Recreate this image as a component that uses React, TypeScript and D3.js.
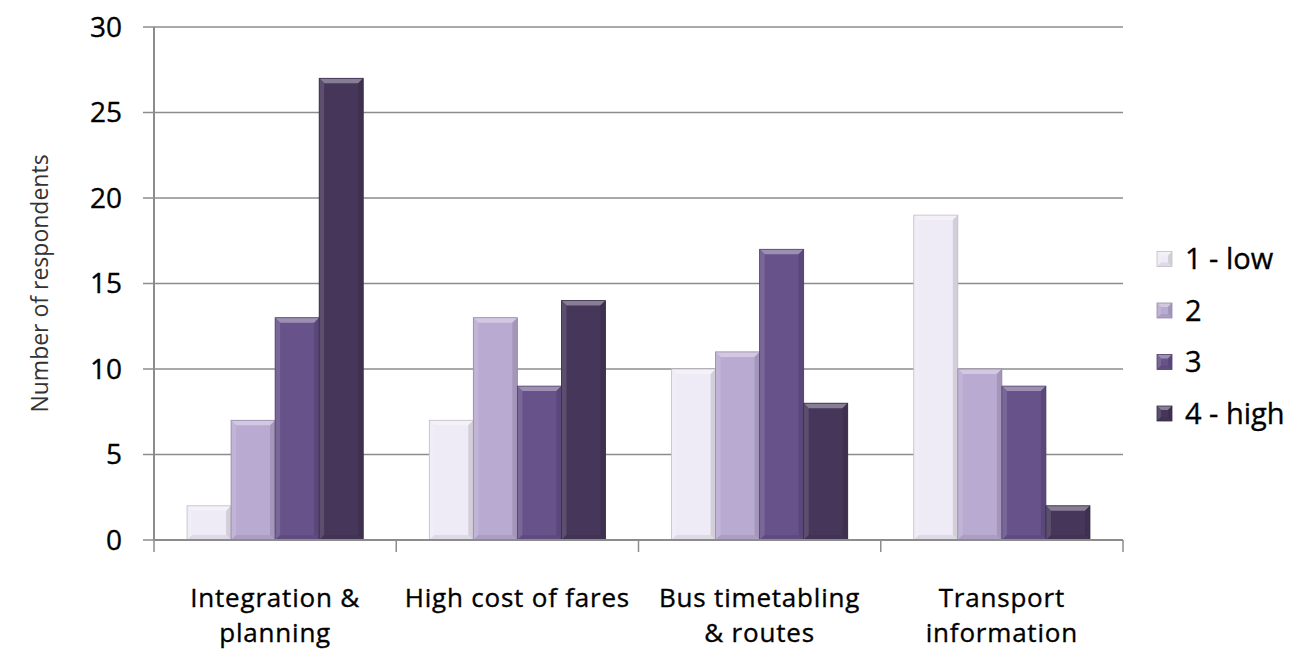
import React from "react";
import * as d3 from "d3";

const categories = [
  ["Integration &", "planning"],
  ["High cost of fares"],
  ["Bus timetabling", "& routes"],
  ["Transport", "information"],
];
const seriesNames = ["1 - low", "2", "3", "4 - high"];
const seriesColors = ["#EEEAF6", "#B9AAD2", "#67528A", "#46375A"];
const low = [2, 7, 10, 19];
const two = [7, 13, 11, 10];
const three = [13, 9, 17, 9];
const high = [27, 14, 8, 2];
const yTicks = [0, 5, 10, 15, 20, 25, 30];

const W = 1290;
const H = 651;
const left = 154;
const right = 1123;
const top = 27;
const bottom = 540;
const FONT = "'Open Sans', Lato, sans-serif";

function Bar({ x, y, w, h, color, bevel = 5 }: { x: number; y: number; w: number; h: number; color: string; bevel?: number }) {
  const b = Math.min(bevel, h / 2);
  const c = d3.color(color)!;
  const lighter = d3.interpolateRgb(color, "#ffffff")(0.35);
  const darker = c.darker(0.6).formatHex();
  const sideL = d3.interpolateRgb(color, "#ffffff")(0.12);
  const sideR = c.darker(0.35).formatHex();
  return (
    <g>
      <rect x={x} y={y} width={w} height={h} fill={color} />
      {/* bevel: top face */}
      <polygon points={`${x},${y} ${x + w},${y} ${x + w - b},${y + b} ${x + b},${y + b}`} fill={lighter} />
      {/* left face */}
      <polygon points={`${x},${y} ${x + b},${y + b} ${x + b},${y + h - b} ${x},${y + h}`} fill={sideL} />
      {/* right face */}
      <polygon points={`${x + w},${y} ${x + w},${y + h} ${x + w - b},${y + h - b} ${x + w - b},${y + b}`} fill={sideR} />
      {/* bottom face */}
      <polygon points={`${x},${y + h} ${x + b},${y + h - b} ${x + w - b},${y + h - b} ${x + w},${y + h}`} fill={sideR} opacity={0.6} />
      <rect x={x} y={y} width={w} height={h} fill="none" stroke={darker} strokeWidth={0.8} />
    </g>
  );
}

export default function App() {
  const series = [low, two, three, high];
  const y = d3.scaleLinear().domain([0, 30]).range([bottom, top]);
  const x0 = d3
    .scaleBand<number>()
    .domain(d3.range(categories.length))
    .range([left, right])
    .paddingInner(0)
    .paddingOuter(0);
  const catW = x0.bandwidth();
  const barW = catW / 5.5;
  const x1 = d3
    .scaleBand<number>()
    .domain(d3.range(series.length))
    .range([barW * 0.75, catW - barW * 0.75])
    .padding(0);

  const textStyle = { stroke: "#000", strokeWidth: 0.35 };

  return (
    <svg width={W} height={H} style={{ position: "absolute", left: 0, top: 0 }}>
      <rect width={W} height={H} fill="#ffffff" />
      {/* gridlines */}
      {yTicks.map((t) => (
        <line key={"g" + t} x1={left} x2={right} y1={y(t)} y2={y(t)} stroke="#8c8c8c" strokeWidth={1.5} />
      ))}
      {/* bars */}
      {categories.map((_, ci) =>
        series.map((s, si) => {
          const bx = (x0(ci) ?? 0) + (x1(si) ?? 0);
          const by = y(s[ci]);
          return <Bar key={ci + "-" + si} x={bx} y={by} w={x1.bandwidth()} h={bottom - by} color={seriesColors[si]} />;
        })
      )}
      {/* axes */}
      <line x1={left} x2={left} y1={top} y2={bottom} stroke="#8c8c8c" strokeWidth={2} />
      <line x1={left} x2={right} y1={bottom} y2={bottom} stroke="#8c8c8c" strokeWidth={2} />
      {yTicks.map((t) => (
        <g key={"t" + t}>
          <line x1={left - 11} x2={left} y1={y(t)} y2={y(t)} stroke="#8c8c8c" strokeWidth={1.5} />
          <text x={122} y={y(t)} dy="0.35em" textAnchor="end" fontFamily={FONT} fontSize={28} fill="#000" style={textStyle}>
            {t}
          </text>
        </g>
      ))}
      {d3.range(categories.length + 1).map((i) => {
        const xx = left + i * catW;
        return <line key={"xt" + i} x1={xx} x2={xx} y1={bottom} y2={bottom + 12} stroke="#8c8c8c" strokeWidth={1.5} />;
      })}
      {/* category labels, one text per line */}
      {categories.map((lines, ci) =>
        lines.map((l, li) => (
          <text
            key={"c" + ci + "-" + li}
            x={(x0(ci) ?? 0) + catW / 2}
            y={607 + li * 35}
            textAnchor="middle"
            fontFamily={FONT}
            fontSize={26}
            letterSpacing={0.8}
            fill="#000"
            style={textStyle}
          >
            {l}
          </text>
        ))
      )}
      <text
        transform={`translate(48,${(top + bottom) / 2}) rotate(-90)`}
        textAnchor="middle"
        fontFamily={FONT}
        fontSize={23}
        fill="#333"
      >
        Number of respondents
      </text>
      {/* legend */}
      {seriesNames.map((n, i) => {
        const ly = 259 + i * 51.5;
        return (
          <g key={"l" + i}>
            <Bar x={1157} y={ly - 7.5} w={15} h={15} color={seriesColors[i]} bevel={4} />
            <text x={1185} y={ly} dy="0.35em" fontFamily={FONT} fontSize={29} fill="#000" style={textStyle}>
              {n}
            </text>
          </g>
        );
      })}
    </svg>
  );
}
